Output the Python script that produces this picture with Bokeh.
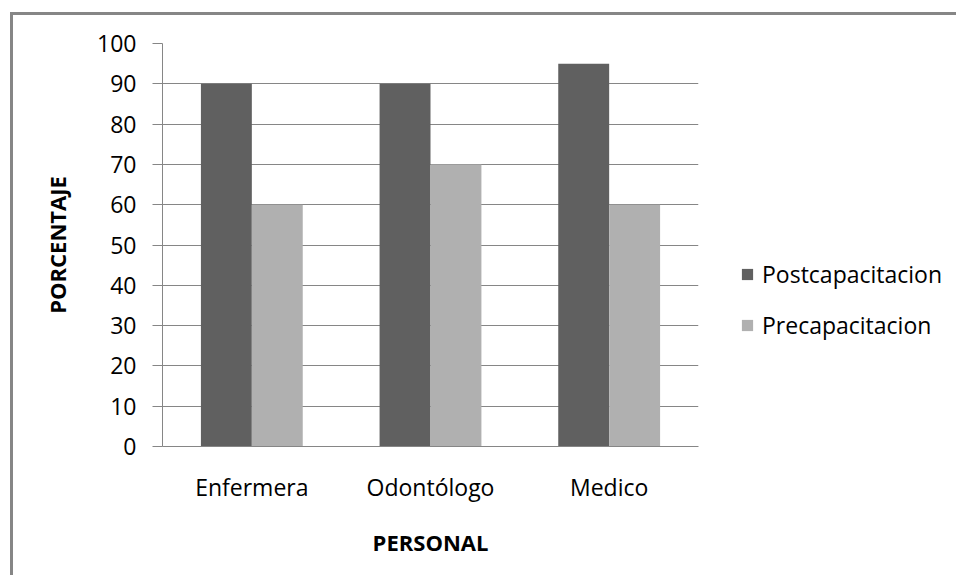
from bokeh.plotting import figure
from bokeh.models import FactorRange, Legend, LegendItem, ColumnDataSource
from bokeh.transform import dodge
from bokeh.embed import file_html
from bokeh.resources import INLINE

categories = ["Enfermera", "Odontólogo", "Medico"]
post = [90, 90, 95]
pre = [60, 70, 60]
series_names = ["Postcapacitacion", "Precapacitacion"]
y_ticks = [0, 10, 20, 30, 40, 50, 60, 70, 80, 90, 100]

FONT = "Open Sans"
GRAY = "#868686"

src = ColumnDataSource(dict(cat=categories, post=post, pre=pre))

# canvas origin at page (13, 15); outer frame line drawn as a 3px shadow on top/left
p = figure(x_range=FactorRange(*categories, range_padding=0), y_range=(0, 100),
           width=943, height=563, output_backend="svg", toolbar_location=None,
           min_border_left=149, min_border_right=258, min_border_top=28, min_border_bottom=132,
           frame_width=536, frame_height=403)
p.margin = (15, 0, 0, 13)
p.styles = {"box-shadow": "-3px -3px 0px 0px #868686"}
p.outline_line_color = None
p.background_fill_color = "white"
p.border_fill_color = "white"

r1 = p.vbar(x=dodge("cat", -0.1425, range=p.x_range), top="post", width=0.285, source=src,
            fill_color="#606060", line_color=None)
r2 = p.vbar(x=dodge("cat", 0.1425, range=p.x_range), top="pre", width=0.285, source=src,
            fill_color="#b0b0b0", line_color=None)

p.xgrid.grid_line_color = None
p.ygrid.grid_line_color = GRAY
p.ygrid.ticker = y_ticks
p.yaxis.ticker = y_ticks

for ax in (p.xaxis[0], p.yaxis[0]):
    ax.axis_line_color = GRAY
    ax.major_tick_line_color = GRAY
    ax.minor_tick_line_color = None
    ax.major_tick_in = 0
    ax.major_label_text_font = FONT
    ax.major_label_text_font_size = "23px"
    ax.major_label_text_color = "black"
    ax.axis_label_text_font = FONT
    ax.axis_label_text_font_size = "22px"
    ax.axis_label_text_font_style = "bold"
    ax.axis_label_text_color = "black"

p.yaxis.major_tick_out = 10
p.yaxis.major_label_standoff = 16
p.yaxis.axis_label = "PORCENTAJE"
p.yaxis.axis_label_standoff = 22
p.xaxis.major_tick_out = 0
p.xaxis.major_label_standoff = 24
p.xaxis.axis_label = "PERSONAL"
p.xaxis.axis_label_standoff = 21

legend = Legend(items=[LegendItem(label=series_names[0], renderers=[r1]),
                       LegendItem(label=series_names[1], renderers=[r2])],
                location=(42, 105), orientation="vertical",
                label_text_font=FONT, label_text_font_size="23px", label_text_color="black",
                glyph_width=14, glyph_height=14, label_height=30, spacing=19,
                padding=0, margin=0, border_line_color=None, background_fill_alpha=0,
                label_standoff=8)
p.add_layout(legend, "right")

open("out.html", "w").write(file_html(p, INLINE))
